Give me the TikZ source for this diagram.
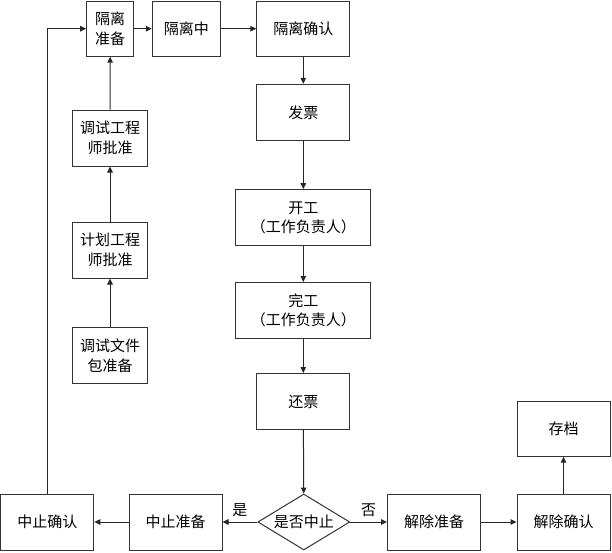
\documentclass[tikz,border=0pt]{standalone}
\usepackage{fontspec}
\setmainfont{Noto Sans CJK SC}
\usepackage{tikz}
\usetikzlibrary{arrows.meta}
\usetikzlibrary{shapes.geometric}

\begin{document}
\begin{tikzpicture}[x=1pt,y=-1pt,
  box/.style={draw=black!80,line width=1pt,fill=white,align=center,inner sep=0pt,
    minimum height=56pt,font=\fontsize{15}{19.5}\selectfont},
  ask/.style={diamond,draw=black!80,line width=1pt,inner sep=0pt,aspect=1.64,
    minimum width=92pt,minimum height=56pt,font=\fontsize{15}{19.5}\selectfont},
  flow/.style={draw=black!85,line width=1pt,->,>={Triangle[length=6pt,width=5.5pt]}}]
 \useasboundingbox (0,0) rectangle (612,552);
 \pgfmathsetmacro{\wa}{93}
 \pgfmathsetmacro{\wb}{75}

 % upper row
 \node[box,minimum width=47pt,minimum height=55pt] (geliprep) at (110.2,28.7) {隔离\\准备};
 \node[box,minimum width=68pt,minimum height=55pt] (gelizhong) at (186.3,28.7) {隔离中};
 \node[box,minimum width=\wa pt,minimum height=55pt] (geliok) at (303.3,28.7) {隔离确认};

 % left column
 \node[box,minimum width=\wb pt] (tsapprove) at (110,138) {调试工程\\师批准};
 \node[box,minimum width=\wb pt] (jhapprove) at (110,250) {计划工程\\师批准};
 \node[box,minimum width=\wb pt] (wenjian) at (110,355.5) {调试文件\\包准备};

 % middle column
 \node[box,minimum width=\wa pt] (fapiao) at (303.3,112.3) {发票};
 \node[box,minimum width=134.7pt] (kaigong) at (303.3,217.7) {开工\\（工作负责人）};
 \node[box,minimum width=134.7pt] (wangong) at (303.3,310.5) {完工\\（工作负责人）};
 \node[box,minimum width=\wa pt] (huanpiao) at (303.3,401.5) {还票};

 % bottom row
 \node[ask] (stop) at (303.8,522) {是否中止};
 \node[box,minimum width=\wa pt] (zzprep) at (175.5,522) {中止准备};
 \node[box,minimum width=\wa pt] (zzok) at (47.3,522) {中止确认};
 \node[box,minimum width=\wa pt] (jcprep) at (434,522) {解除准备};
 \node[box,minimum width=\wa pt] (jcok) at (563.5,522) {解除确认};
 \node[box,minimum width=\wa pt,minimum height=54.3pt] (cundang) at (563.5,429) {存档};

 \draw[flow] (wenjian) -- (jhapprove);
 \draw[flow] (jhapprove) -- (tsapprove);
 \draw[flow] (tsapprove) -- (geliprep);
 \draw[flow] (geliprep) -- (gelizhong);
 \draw[flow] (gelizhong) -- (geliok);
 \draw[flow] (geliok) -- (fapiao);
 \draw[flow] (fapiao) -- (kaigong);
 \draw[flow] (kaigong) -- (wangong);
 \draw[flow] (wangong) -- (huanpiao);
 \draw[flow] (huanpiao) -- (stop);
 \draw[flow] (stop) -- node[above=1pt,font=\fontsize{15}{15}\selectfont] {是} (zzprep);
 \draw[flow] (zzprep) -- (zzok);
 \draw[flow] (stop) -- node[above=1pt,font=\fontsize{15}{15}\selectfont] {否} (jcprep);
 \draw[flow] (jcprep) -- (jcok);
 \draw[flow] (jcok) -- (cundang);
 \draw[flow] (zzok.north) |- (geliprep.west);
\end{tikzpicture}
\end{document}
